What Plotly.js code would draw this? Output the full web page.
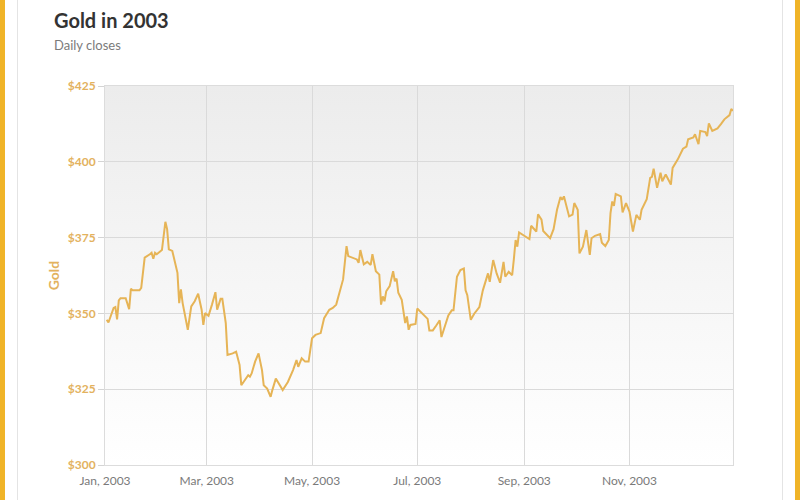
<!DOCTYPE html>
<html>
<head>
<meta charset="utf-8">
<script src="https://cdn.plot.ly/plotly-3.0.1.min.js"></script>
<style>
  html, body { margin: 0; padding: 0; background: #ffffff; }
  #frame { position: absolute; left: 0; top: 0; width: 800px; height: 500px; box-sizing: border-box;
           border-left: 5px solid #f0b428; border-right: 5px solid #f0b428; }
  #card { position: absolute; left: 17px; top: 0; width: 766px; height: 500px; box-sizing: border-box;
          border-left: 1px solid #e4e4e4; border-right: 1px solid #e4e4e4; }
  #chart { position: absolute; left: 0; top: 0; width: 800px; height: 500px; }
</style>
</head>
<body>
<div id="frame"></div>
<div id="card"></div>
<div id="chart"></div>
<script>
const chartTitle = "Gold in 2003";
const chartSubtitle = "Daily closes";
const seriesName = "Gold";

const dates = [
  "2003-01-02","2003-01-03","2003-01-06","2003-01-07","2003-01-08","2003-01-09","2003-01-10","2003-01-13",
  "2003-01-15","2003-01-16","2003-01-17","2003-01-21","2003-01-22","2003-01-24","2003-01-27","2003-01-28",
  "2003-01-29","2003-01-30","2003-01-31","2003-02-03","2003-02-05","2003-02-06","2003-02-07","2003-02-09",
  "2003-02-12","2003-02-13","2003-02-14","2003-02-15","2003-02-18","2003-02-20","2003-02-22","2003-02-24",
  "2003-02-26","2003-02-27","2003-02-28","2003-03-02","2003-03-04","2003-03-06","2003-03-07","2003-03-09",
  "2003-03-10","2003-03-12","2003-03-13","2003-03-16","2003-03-18","2003-03-20","2003-03-21","2003-03-23",
  "2003-03-25","2003-03-26","2003-03-27","2003-03-29","2003-03-31","2003-04-02","2003-04-03","2003-04-05",
  "2003-04-07","2003-04-08","2003-04-10","2003-04-14","2003-04-17","2003-04-20","2003-04-22","2003-04-23",
  "2003-04-25","2003-04-27","2003-04-29","2003-05-01","2003-05-03","2003-05-06","2003-05-08","2003-05-11",
  "2003-05-13","2003-05-15","2003-05-17","2003-05-19","2003-05-21","2003-05-22","2003-05-27","2003-05-28",
  "2003-05-29","2003-05-31","2003-06-02","2003-06-04","2003-06-05","2003-06-07","2003-06-09","2003-06-10",
  "2003-06-11","2003-06-12","2003-06-13","2003-06-15","2003-06-17","2003-06-18","2003-06-19","2003-06-20",
  "2003-06-22","2003-06-24","2003-06-25","2003-06-26","2003-06-27","2003-06-30","2003-07-01","2003-07-03",
  "2003-07-07","2003-07-08","2003-07-10","2003-07-12","2003-07-14","2003-07-15","2003-07-17","2003-07-19",
  "2003-07-21","2003-07-22","2003-07-24","2003-07-26","2003-07-28","2003-07-29","2003-07-30","2003-08-01",
  "2003-08-03","2003-08-06","2003-08-08","2003-08-11","2003-08-12","2003-08-14","2003-08-16","2003-08-18",
  "2003-08-20","2003-08-21","2003-08-23","2003-08-25","2003-08-26","2003-08-27","2003-08-28","2003-08-29",
  "2003-09-01","2003-09-03","2003-09-04","2003-09-05","2003-09-08","2003-09-09","2003-09-11","2003-09-12",
  "2003-09-14","2003-09-16","2003-09-18","2003-09-20","2003-09-22","2003-09-23","2003-09-24","2003-09-27",
  "2003-09-29","2003-09-30","2003-10-02","2003-10-03","2003-10-05","2003-10-07","2003-10-09","2003-10-10",
  "2003-10-12","2003-10-15","2003-10-16","2003-10-18","2003-10-20","2003-10-21","2003-10-22","2003-10-23",
  "2003-10-24","2003-10-27","2003-10-28","2003-10-30","2003-11-01","2003-11-03","2003-11-05","2003-11-07",
  "2003-11-08","2003-11-11","2003-11-13","2003-11-14","2003-11-15","2003-11-17","2003-11-19","2003-11-20",
  "2003-11-22","2003-11-25","2003-11-26","2003-11-29","2003-12-02","2003-12-04","2003-12-05","2003-12-08",
  "2003-12-09","2003-12-11","2003-12-12","2003-12-15","2003-12-16","2003-12-17","2003-12-19","2003-12-22",
  "2003-12-24","2003-12-26","2003-12-29","2003-12-30","2003-12-31"
];

const closes = [
  347.9,347.0,351.8,352.1,348.0,354.3,355.0,355.0,
  351.4,358.1,357.6,357.6,358.4,368.4,369.5,370.0,
  368.0,370.0,369.5,370.9,380.2,377.8,371.1,370.6,
  363.4,353.4,357.9,353.4,344.6,352.3,354.0,356.5,
  351.2,346.2,350.1,349.2,352.9,357.0,351.2,354.8,
  354.8,346.8,336.3,336.8,337.4,333.0,326.3,328.0,
  329.6,329.1,330.2,334.1,336.8,331.3,326.3,325.2,
  322.5,324.7,328.5,324.7,327.4,331.3,334.6,332.4,
  335.2,334.1,334.1,341.8,342.9,343.5,348.4,351.2,
  351.8,352.9,356.8,361.2,372.2,368.9,367.8,366.7,
  370.9,366.2,367.0,366.0,369.5,363.9,362.8,352.9,
  355.6,354.0,357.3,359.0,363.9,360.6,361.5,356.8,
  354.5,346.8,349.0,344.6,346.2,346.5,351.6,350.4,
  348.2,344.4,344.4,346.0,347.7,342.2,345.5,349.3,
  351.0,351.0,362.1,364.3,364.8,357.6,356.0,347.9,
  349.9,352.1,357.6,363.2,360.4,367.6,363.2,360.1,
  367.0,362.1,363.7,362.6,368.0,374.2,372.0,376.7,
  375.6,374.8,374.5,378.9,377.0,382.7,380.9,377.2,
  376.1,374.8,377.8,384.2,388.4,387.5,388.6,382.0,
  382.6,386.4,384.2,369.8,372.0,377.5,369.3,374.8,
  375.6,376.2,373.3,372.2,374.2,383.1,386.9,385.5,
  389.4,388.6,383.3,386.4,383.6,377.0,382.5,380.9,
  384.2,387.7,394.7,395.0,397.7,391.4,396.4,393.6,
  395.8,392.5,398.0,400.8,404.3,405.0,407.4,408.0,
  409.1,405.8,410.2,409.8,408.5,412.7,410.2,411.0,
  412.4,414.0,415.4,417.4,416.8
];

const yTickVals = [300, 325, 350, 375, 400, 425];
const yTickText = ["$300", "$325", "$350", "$375", "$400", "$425"];

const gold = "#e6b456";
const goldText = "#e3b25e";

const gradSvg = '<svg xmlns="http://www.w3.org/2000/svg" width="10" height="100" preserveAspectRatio="none">' +
  '<defs><linearGradient id="g" x1="0" y1="0" x2="0" y2="1">' +
  '<stop offset="0" stop-color="#ececec"/><stop offset="1" stop-color="#ffffff"/></linearGradient></defs>' +
  '<rect width="10" height="100" fill="url(#g)"/></svg>';
const gradUri = "data:image/svg+xml;base64," + btoa(gradSvg);

const trace = {
  type: "scatter",
  mode: "lines",
  name: seriesName,
  x: dates,
  y: closes,
  line: { color: gold, width: 2 },
  hoverinfo: "x+y"
};

const layout = {
  width: 800,
  height: 500,
  margin: { l: 105, r: 67, t: 86, b: 35 },
  paper_bgcolor: "rgba(0,0,0,0)",
  plot_bgcolor: "rgba(0,0,0,0)",
  showlegend: false,
  font: { family: "Lato, 'Open Sans', sans-serif" },
  images: [{
    source: gradUri, xref: "paper", yref: "paper", x: 0, y: 1,
    sizex: 1, sizey: 1, sizing: "stretch", layer: "below", xanchor: "left", yanchor: "top"
  }],
  xaxis: {
    type: "date",
    range: ["2003-01-01", "2003-12-31"],
    tick0: "2003-01-01",
    dtick: "M2",
    tickformat: "%b, %Y",
    showgrid: true,
    gridcolor: "#dadada",
    gridwidth: 1,
    showline: true,
    linecolor: "#dcdcdc",
    mirror: true,
    ticks: "outside",
    ticklen: 5,
    tickcolor: "rgba(0,0,0,0)",
    tickfont: { family: "Lato, sans-serif", size: 12, color: "#7a7a7a" },
    zeroline: false
  },
  yaxis: {
    range: [300, 425],
    tickmode: "array",
    tickvals: yTickVals,
    ticktext: yTickText,
    showgrid: true,
    gridcolor: "#dadada",
    gridwidth: 1,
    showline: true,
    linecolor: "#dcdcdc",
    mirror: true,
    ticks: "outside",
    ticklen: 6,
    tickcolor: "#d4d4d4",
    tickfont: { family: "Lato, sans-serif", size: 12, color: goldText, weight: "bold" },
    zeroline: false,
    title: { text: seriesName, standoff: 4, font: { family: "Lato, sans-serif", size: 14, color: goldText, weight: "bold" } }
  },
  annotations: [
    {
      text: "<b>" + chartTitle + "</b>", xref: "paper", yref: "paper",
      x: -0.0845, y: 1.174, xanchor: "left", yanchor: "middle", showarrow: false,
      font: { family: "Lato, sans-serif", size: 20, color: "#333333" }
    },
    {
      text: chartSubtitle, xref: "paper", yref: "paper",
      x: -0.0845, y: 1.108, xanchor: "left", yanchor: "middle", showarrow: false,
      font: { family: "Lato, sans-serif", size: 13, color: "#7b7b7b" }
    }
  ]
};

Plotly.newPlot("chart", [trace], layout, { displayModeBar: false });
</script>
</body>
</html>
